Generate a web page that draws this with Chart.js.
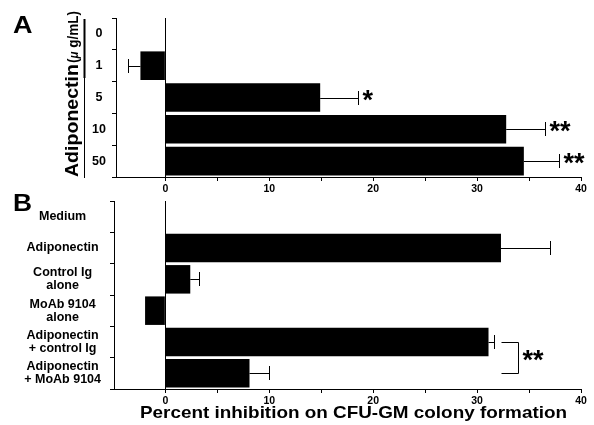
<!DOCTYPE html>
<html><head><meta charset="utf-8">
<script src="https://cdn.jsdelivr.net/npm/chart.js@4"></script>
<style>
html,body{margin:0;padding:0;background:#fff;}
#wrap{position:relative;width:594px;height:425px;overflow:hidden;background:#fff;}
canvas{position:absolute;left:0;top:0;}
</style></head><body>
<div id="wrap">
<canvas id="a" width="594" height="200"></canvas>
<canvas id="b" width="594" height="425"></canvas>
</div>
<script>
// ---- data ----
const doseLabels = ['0', '1', '5', '10', '50'];
const doseValues = [0, -2.4, 14.9, 32.8, 34.5];
const doseErrors = [0, 1.15, 3.65, 3.7, 3.35];
const doseSignif = ['', '', '*', '**', '**'];

const treatLabels = [['Medium'], ['Adiponectin'], ['Control Ig', 'alone'], ['MoAb 9104', 'alone'], ['Adiponectin', '+ control Ig'], ['Adiponectin', '+ MoAb 9104']];
const treatValues = [0, 32.3, 2.4, -1.95, 31.1, 8.1];
const treatErrors = [0, 4.75, 0.8, 0, 0.5, 1.9];
const bracketRows = [4, 5];
const bracketSignif = '**';

const xTicks = [0, 5, 10, 15, 20, 25, 30, 35, 40];
const xLabelTicks = [0, 10, 20, 30, 40];
const panelLabels = ['A', 'B'];
const yTitleMain = 'Adiponectin';
const yTitleUnit = ['(', 'μ', ' g/mL)'];
const xTitle = 'Percent inhibition on CFU-GM colony formation';

// ---- helpers ----
const FAM = '"Liberation Sans", Arial, Helvetica, sans-serif';
function fitText(ctx, text, x, y, w, font) {
  ctx.save();
  ctx.font = font;
  const m = ctx.measureText(text).width;
  ctx.translate(x, y);
  ctx.scale(w / m, 1);
  ctx.textAlign = 'left';
  ctx.textBaseline = 'alphabetic';
  ctx.fillText(text, 0, 0);
  ctx.restore();
}
const STAR_FONT = 'bold 27px ' + FAM;
const STAR_DY = 11;

const errPlugin = {
  id: 'err',
  afterDatasetsDraw(chart, args, opts) {
    const ctx = chart.ctx, xs = chart.scales.x, ys = chart.scales.y;
    ctx.save();
    ctx.strokeStyle = '#000';
    ctx.fillStyle = '#000';
    ctx.lineWidth = 1;
    opts.values.forEach((v, i) => {
      const e = opts.errors[i];
      const y = Math.round(ys.getPixelForValue(i));
      const dir = v < 0 ? -1 : 1;
      const x0 = xs.getPixelForValue(v);
      const end = Math.round(xs.getPixelForValue(v + dir * e)) + 0.5;
      if (e > 0) {
        ctx.beginPath();
        ctx.moveTo(x0, y + 0.5); ctx.lineTo(end, y + 0.5);
        ctx.moveTo(end, y - 7); ctx.lineTo(end, y + 7);
        ctx.stroke();
      }
      const s = (opts.signif || [])[i];
      if (s) {
        ctx.font = STAR_FONT;
        ctx.textAlign = 'left';
        ctx.textBaseline = 'alphabetic';
        ctx.fillText(s, end + 4, y + STAR_DY);
      }
    });
    if (opts.bracket) {
      const b = opts.bracket;
      const ya = Math.round(ys.getPixelForValue(b.rows[0])) + 0.5;
      const yb = Math.round(ys.getPixelForValue(b.rows[1])) + 0.5;
      const xa = Math.round(xs.getPixelForValue(b.from)) + 0.5;
      const xb = Math.round(xs.getPixelForValue(b.to)) + 0.5;
      ctx.beginPath();
      ctx.moveTo(xa, ya); ctx.lineTo(xb, ya); ctx.lineTo(xb, yb); ctx.lineTo(xa, yb);
      ctx.stroke();
      ctx.font = STAR_FONT;
      ctx.textAlign = 'left';
      ctx.fillText(b.text, xb + 4, (ya + yb) / 2 + STAR_DY);
    }
    ctx.restore();
  }
};

const decoA = {
  id: 'decoA',
  afterDraw(chart) {
    const ctx = chart.ctx;
    ctx.save();
    ctx.fillStyle = '#000';
    fitText(ctx, panelLabels[0], 13, 32.5, 19.5, 'bold 24px ' + FAM);
    ctx.translate(78, 177);
    ctx.rotate(-Math.PI / 2);
    fitText(ctx, yTitleMain, 0, 0, 113, 'bold 18px ' + FAM);
    const fonts = ['bold 14px ' + FAM, 'italic bold 12px ' + FAM, 'bold 14px ' + FAM];
    let tot = 0;
    const ws = yTitleUnit.map((t, i) => { ctx.font = fonts[i]; const w = ctx.measureText(t).width; tot += w; return w; });
    const sc = 52 / tot;
    let x = 114;
    yTitleUnit.forEach((t, i) => {
      ctx.save();
      ctx.font = fonts[i];
      ctx.translate(x, 0);
      ctx.scale(sc, 1);
      ctx.textAlign = 'left';
      ctx.fillText(t, 0, 0);
      ctx.restore();
      x += ws[i] * sc;
    });
    ctx.restore();
    ctx.save();
    ctx.strokeStyle = '#000';
    ctx.lineWidth = 2;
    ctx.beginPath(); ctx.moveTo(84.5, 19); ctx.lineTo(84.5, 78); ctx.stroke();
    ctx.lineWidth = 1;
    ctx.beginPath(); ctx.moveTo(84.5, 78); ctx.lineTo(84.5, 178); ctx.stroke();
    ctx.restore();
  }
};

const decoB = {
  id: 'decoB',
  afterDraw(chart) {
    const ctx = chart.ctx;
    ctx.save();
    ctx.fillStyle = '#000';
    fitText(ctx, panelLabels[1], 13, 210.5, 19, 'bold 24px ' + FAM);
    fitText(ctx, xTitle, 140, 418, 427, 'bold 16.5px ' + FAM);
    ctx.restore();
  }
};

function xScale(min, h) {
  return {
    type: 'linear', min: min, max: 40,
    afterBuildTicks: s => { s.ticks = xTicks.map(v => ({ value: v })); },
    afterFit: s => { s.height = h; },
    grid: {
      drawOnChartArea: true, drawTicks: true, tickLength: 4, lineWidth: 1,
      color: c => (c.tick && c.tick.value === 0) ? '#000' : 'rgba(0,0,0,0)',
      tickColor: '#000'
    },
    border: { display: true, color: '#000', width: 1 },
    ticks: {
      color: '#000', padding: 2, maxRotation: 0, autoSkip: false,
      font: { family: FAM, size: 10.5, weight: 'bold' },
      callback: v => xLabelTicks.includes(v) ? String(v) : ''
    }
  };
}
function yScale(w, pad, size) {
  return {
    type: 'category', offset: true,
    afterFit: s => { s.width = w; },
    grid: { offset: true, drawOnChartArea: false, tickLength: 4, color: '#000', tickColor: '#000' },
    border: { display: true, color: '#000', width: 1 },
    ticks: { crossAlign: 'center', padding: pad, color: '#000', autoSkip: false, font: { family: FAM, size: size, weight: 'bold', lineHeight: 1.05 } }
  };
}

Chart.defaults.font.family = FAM;

new Chart(document.getElementById('a'), {
  type: 'bar',
  data: { labels: doseLabels, datasets: [{ data: doseValues, backgroundColor: '#000', borderWidth: 0, barPercentage: 0.9, categoryPercentage: 1.0 }] },
  options: {
    indexAxis: 'y', responsive: false, animation: false, devicePixelRatio: 1,
    layout: { padding: { left: 0, top: 18, right: 13, bottom: 0 } },
    scales: { x: xScale(-4.75, 23), y: yScale(116, 6, 12.5) },
    plugins: {
      legend: { display: false }, tooltip: { enabled: false },
      err: { values: doseValues, errors: doseErrors, signif: doseSignif }
    }
  },
  plugins: [errPlugin, decoA]
});

new Chart(document.getElementById('b'), {
  type: 'bar',
  data: { labels: treatLabels, datasets: [{ data: treatValues, backgroundColor: '#000', borderWidth: 0, barPercentage: 0.91, categoryPercentage: 1.0 }] },
  options: {
    indexAxis: 'y', responsive: false, animation: false, devicePixelRatio: 1,
    layout: { padding: { left: 0, top: 201, right: 13, bottom: 0 } },
    scales: { x: xScale(-4.94, 36), y: yScale(114, 9, 12.5) },
    plugins: {
      legend: { display: false }, tooltip: { enabled: false },
      err: { values: treatValues, errors: treatErrors, signif: [], bracket: { rows: bracketRows, from: 32.3, to: 33.9, text: bracketSignif } }
    }
  },
  plugins: [errPlugin, decoB]
});
</script>
</body></html>
